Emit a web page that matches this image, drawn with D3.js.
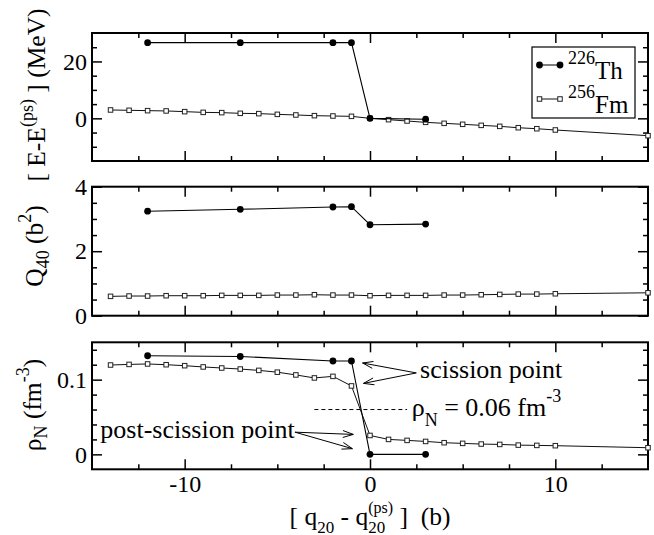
<!DOCTYPE html>
<html>
<head>
<meta charset="utf-8">
<script src="https://cdn.jsdelivr.net/npm/d3@7"></script>
</head>
<body style="margin:0">
<svg id="chart" width="654" height="535"></svg>
<script>
// ---- data ----
const thX      = [-12, -7, -2, -1, 0, 3];
const thEnergy = [26.6, 26.6, 26.6, 26.6, 0, -0.3];
const thQ40    = [3.24, 3.30, 3.37, 3.38, 2.82, 2.84];
const thRho    = [0.132, 0.131, 0.125, 0.125, 0, 0];

const fmX      = [-14, -13, -12, -11, -10, -9, -8, -7, -6, -5, -4, -3, -2, -1,
                  0, 1, 2, 3, 4, 5, 6, 7, 8, 9, 10, 15];
const fmEnergy = [2.94, 2.82, 2.70, 2.60, 2.35, 2.10, 2.00, 1.76, 1.65, 1.40, 1.18, 0.94, 0.82, 0.70,
                  0, -0.47, -0.94, -1.41, -1.76, -2.10, -2.47, -2.82, -3.30, -3.65, -4.10, -6.10];
const fmQ40    = [0.60, 0.61, 0.61, 0.62, 0.62, 0.62, 0.63, 0.63, 0.63, 0.64, 0.64, 0.65, 0.64, 0.64,
                  0.62, 0.63, 0.63, 0.63, 0.64, 0.64, 0.65, 0.66, 0.67, 0.67, 0.68, 0.71];
const fmRho    = [0.1196, 0.1204, 0.1210, 0.1200, 0.1187, 0.1170, 0.1156, 0.1142, 0.1124, 0.1100, 0.1063, 0.1023, 0.1044, 0.0916,
                  0.0253, 0.0200, 0.0187, 0.0173, 0.0156, 0.0147, 0.0138, 0.0133, 0.0124, 0.0120, 0.0116, 0.0089];

const xMajorTicks = [-10, 0, 10];
const xMinorTicks = [-12.5, -7.5, -5, -2.5, 2.5, 5, 7.5, 12.5];

const energyMajorTicks = [0, 20];
const energyMinorTicks = [-10, -5, 5, 10, 15, 25];
const q40MajorTicks    = [0, 2, 4];
const q40MinorTicks    = [0.5, 1, 1.5, 2.5, 3, 3.5];
const rhoMajorTicks    = [0, 0.1];
const rhoMinorTicks    = [0.02, 0.04, 0.06, 0.08, 0.12, 0.14];

const legendNames = [["226", "Th"], ["256", "Fm"]];
const rhoThreshold = 0.06;
const thresholdSpan = [-3, 2];

// ---- layout ----
const FONT = "Liberation Serif";
const NB = "\u00a0";
const TICK_FS = 24, TITLE_FS = 25.5, NOTE_FS = 26, SMALL_FS = 18;
const svg = d3.select("#chart");
const left = 92, right = 648;
const x = d3.scaleLinear().domain([-15, 15]).range([left, right]);

const panels = [
  { top: 33,    bottom: 161,   domain: [-15, 30],     major: energyMajorTicks, minor: energyMinorTicks, th: thEnergy, fm: fmEnergy },
  { top: 186.7, bottom: 315.7, domain: [0, 4],        major: q40MajorTicks,    minor: q40MinorTicks,    th: thQ40,    fm: fmQ40 },
  { top: 342.3, bottom: 469.3, domain: [-0.02, 0.15], major: rhoMajorTicks,    minor: rhoMinorTicks,    th: thRho,    fm: fmRho }
];

const fmt = d => String(d);
const blank = () => "";

function styleAxis(g) {
  g.attr("font-family", FONT).attr("font-size", TICK_FS);
  g.select(".domain").remove();
  g.selectAll(".tick line").attr("stroke", "#000").attr("stroke-width", 1.5);
  g.selectAll(".tick text").attr("fill", "#000")
    .attr("font-family", FONT).attr("font-size", TICK_FS);
}

function drawSquare(g, cx, cy, s) {
  g.append("rect").attr("x", cx - s / 2).attr("y", cy - s / 2)
    .attr("width", s).attr("height", s)
    .attr("fill", "#fff").attr("stroke", "#222").attr("stroke-width", 1);
}

panels.forEach((p, i) => {
  const y = d3.scaleLinear().domain(p.domain).range([p.bottom, p.top]);
  p.y = y;
  const g = svg.append("g");

  // ticks on all four sides, pointing inward
  const isLast = i === panels.length - 1;
  g.append("g").attr("transform", `translate(0,${p.bottom})`)
    .call(d3.axisBottom(x).tickValues(xMajorTicks).tickSize(-10).tickPadding(6)
      .tickFormat(isLast ? fmt : blank))
    .call(styleAxis);
  g.append("g").attr("transform", `translate(0,${p.bottom})`)
    .call(d3.axisBottom(x).tickValues(xMinorTicks).tickSize(-5).tickFormat(blank))
    .call(styleAxis);
  g.append("g").attr("transform", `translate(0,${p.top})`)
    .call(d3.axisTop(x).tickValues(xMajorTicks).tickSize(-10).tickFormat(blank))
    .call(styleAxis);
  g.append("g").attr("transform", `translate(0,${p.top})`)
    .call(d3.axisTop(x).tickValues(xMinorTicks).tickSize(-5).tickFormat(blank))
    .call(styleAxis);

  g.append("g").attr("transform", `translate(${left},0)`)
    .call(d3.axisLeft(y).tickValues(p.major).tickSize(-10).tickPadding(5).tickFormat(fmt))
    .call(styleAxis);
  g.append("g").attr("transform", `translate(${left},0)`)
    .call(d3.axisLeft(y).tickValues(p.minor).tickSize(-5).tickFormat(blank))
    .call(styleAxis);
  g.append("g").attr("transform", `translate(${right},0)`)
    .call(d3.axisRight(y).tickValues(p.major).tickSize(-10).tickFormat(blank))
    .call(styleAxis);
  g.append("g").attr("transform", `translate(${right},0)`)
    .call(d3.axisRight(y).tickValues(p.minor).tickSize(-5).tickFormat(blank))
    .call(styleAxis);

  // frame
  g.append("rect").attr("x", left).attr("y", p.top)
    .attr("width", right - left).attr("height", p.bottom - p.top)
    .attr("fill", "none").attr("stroke", "#000").attr("stroke-width", 2);

  const line = d3.line().x(d => x(d[0])).y(d => y(d[1]));

  // 256Fm: open squares
  const fmPts = fmX.map((v, k) => [v, p.fm[k]]);
  g.append("path").attr("d", line(fmPts)).attr("fill", "none")
    .attr("stroke", "#111").attr("stroke-width", 1);
  fmPts.forEach(d => drawSquare(g, x(d[0]), y(d[1]), 4.5));

  // 226Th: filled circles
  const thPts = thX.map((v, k) => [v, p.th[k]]);
  g.append("path").attr("d", line(thPts)).attr("fill", "none")
    .attr("stroke", "#000").attr("stroke-width", 1.1);
  g.selectAll(null).data(thPts).enter().append("circle")
    .attr("cx", d => x(d[0])).attr("cy", d => y(d[1])).attr("r", 3.4).attr("fill", "#000");
});

// ---- text helpers ----
function txt(parent, size) {
  return parent.append("text").attr("font-family", FONT).attr("font-size", size || TITLE_FS).attr("fill", "#000");
}
function span(t, s, size, dy, dx) {
  const ts = t.append("tspan").attr("font-family", FONT).attr("font-size", size).text(s);
  if (dy) ts.attr("dy", dy);
  if (dx) ts.attr("dx", dx);
  return ts;
}
function rotLabel(cx, cy) {
  return txt(svg).attr("transform", `translate(${cx},${cy}) rotate(-90)`)
    .attr("text-anchor", "middle");
}

// ---- axis titles ----
{
  const t = rotLabel(45, 95);
  span(t, "[" + NB + "E-E", TITLE_FS);
  span(t, "(ps)", SMALL_FS, -12);
  span(t, NB + "]" + NB + "(MeV)", TITLE_FS, 12);
}
{
  const t = rotLabel(43, 246);
  span(t, "Q", TITLE_FS);
  span(t, "40", SMALL_FS, 6);
  span(t, NB + "(b", TITLE_FS, -6);
  span(t, "2", SMALL_FS, -12);
  span(t, ")", TITLE_FS, 12);
}
{
  const t = rotLabel(41, 405);
  span(t, "ρ", TITLE_FS);
  span(t, "N", SMALL_FS, 6);
  span(t, NB + "(fm", TITLE_FS, -6);
  span(t, "-3", SMALL_FS, -12);
  span(t, ")", TITLE_FS, 12);
}
{
  // [ q20 - q20^(ps) ]  (b) with the last subscript and superscript stacked
  const t = txt(svg).attr("y", 525);
  span(t, "[" + NB + "q", TITLE_FS);
  span(t, "20", 17, 8);
  span(t, NB + "-" + NB + "q", TITLE_FS, -8);
  const sub = span(t, "20", 17, 8);
  const w = sub.node().getComputedTextLength();
  span(t, "(ps)", 16, -20.5, -w);
  span(t, NB + "]" + NB + NB + "(b)", TITLE_FS, 12.5);
  const bw = t.node().getBBox().width;
  t.attr("x", (left + right) / 2 - bw / 2);
}

// ---- legend ----
{
  const lg = svg.append("g");
  lg.append("rect").attr("x", 532).attr("y", 47).attr("width", 103).attr("height", 71)
    .attr("fill", "#fff").attr("stroke", "#000").attr("stroke-width", 1.2);
  const rows = [65, 99];
  rows.forEach((ry, k) => {
    lg.append("line").attr("x1", 539.5).attr("x2", 560).attr("y1", ry).attr("y2", ry)
      .attr("stroke", k === 0 ? "#000" : "#111").attr("stroke-width", 1);
    [539.5, 560].forEach(cx => {
      if (k === 0) lg.append("circle").attr("cx", cx).attr("cy", ry).attr("r", 3.4).attr("fill", "#000");
      else drawSquare(lg, cx, ry, 4.5);
    });
    const t = txt(lg).attr("x", 568).attr("y", ry - 1);
    span(t, legendNames[k][0], SMALL_FS);
    span(t, legendNames[k][1], 25, 15);
  });
}

// ---- annotations in the density panel ----
const yr = panels[2].y;
function arrow(x1, y1, x2, y2) {
  const a = Math.atan2(y2 - y1, x2 - x1), L = 11, s = 0.32;
  const g = svg.append("g").attr("stroke", "#000").attr("stroke-width", 1);
  g.append("line").attr("x1", x1).attr("y1", y1).attr("x2", x2).attr("y2", y2);
  [a + Math.PI - s, a + Math.PI + s].forEach(b => {
    g.append("line").attr("x1", x2).attr("y1", y2)
      .attr("x2", x2 + L * Math.cos(b)).attr("y2", y2 + L * Math.sin(b));
  });
}

// threshold density
svg.append("line")
  .attr("x1", x(thresholdSpan[0])).attr("x2", x(thresholdSpan[1]))
  .attr("y1", yr(rhoThreshold)).attr("y2", yr(rhoThreshold))
  .attr("stroke", "#000").attr("stroke-width", 1).attr("stroke-dasharray", "4,3");
{
  const t = txt(svg, NOTE_FS).attr("x", x(2.25)).attr("y", yr(0.0507));
  span(t, "ρ", NOTE_FS);
  span(t, "N", SMALL_FS, 10);
  span(t, NB + "=" + NB + rhoThreshold + NB + "fm", NOTE_FS, -10);
  span(t, "-3", SMALL_FS, -14);
}

// scission point
txt(svg, NOTE_FS).attr("x", x(2.7)).attr("y", yr(0.102)).text("scission point");
arrow(x(2.5), yr(0.109), x(-0.4), yr(0.1223));
arrow(x(2.5), yr(0.109), x(-0.35), yr(0.095));

// post-scission point
txt(svg, NOTE_FS).attr("x", x(-14.55)).attr("y", yr(0.0213)).text("post-scission point");
arrow(x(-4.05), yr(0.0297), x(-0.9), yr(0.0267));
arrow(x(-4.05), yr(0.0297), x(-0.95), yr(0.0076));
</script>
</body>
</html>
